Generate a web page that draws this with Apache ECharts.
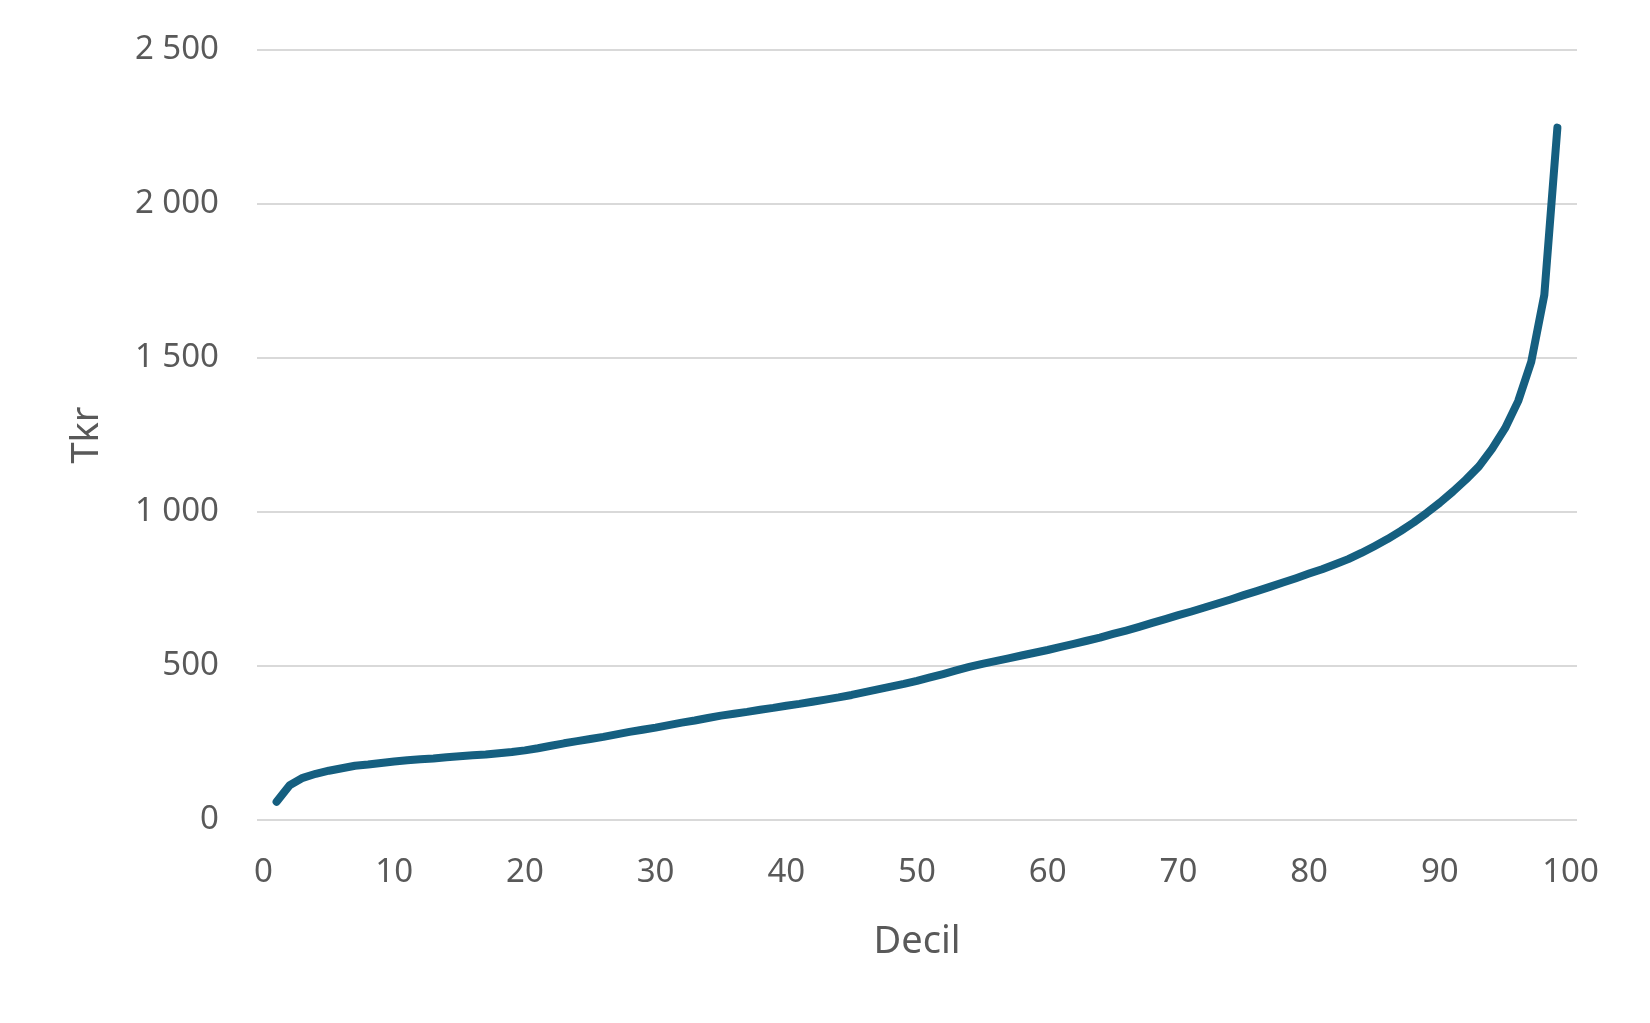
<!DOCTYPE html>
<html>
<head>
<meta charset="utf-8">
<script src="https://cdn.jsdelivr.net/npm/echarts@6/dist/echarts.min.js"></script>
<style>
  html, body { margin: 0; padding: 0; background: #fff; }
  #chart { width: 1650px; height: 1023px; }
</style>
</head>
<body>
<div id="chart"></div>
<script>
// percentil 1..99
const deciles = [
  1, 2, 3, 4, 5, 6, 7, 8, 9, 10,
  11, 12, 13, 14, 15, 16, 17, 18, 19, 20,
  21, 22, 23, 24, 25, 26, 27, 28, 29, 30,
  31, 32, 33, 34, 35, 36, 37, 38, 39, 40,
  41, 42, 43, 44, 45, 46, 47, 48, 49, 50,
  51, 52, 53, 54, 55, 56, 57, 58, 59, 60,
  61, 62, 63, 64, 65, 66, 67, 68, 69, 70,
  71, 72, 73, 74, 75, 76, 77, 78, 79, 80,
  81, 82, 83, 84, 85, 86, 87, 88, 89, 90,
  91, 92, 93, 94, 95, 96, 97, 98, 99
];
// Tkr
const tkr = [
  59, 113, 137, 150, 160, 168, 176, 180, 185, 190,
  194, 197, 200, 204, 207, 210, 213, 217, 221, 226,
  233, 241, 249, 256, 263, 270, 278, 286, 293, 300,
  308, 316, 323, 331, 339, 345, 351, 358, 364, 371,
  377, 384, 391, 398, 406, 415, 424, 433, 442, 452,
  463, 474, 486, 497, 507, 516, 525, 534, 543, 552,
  562, 572, 582, 592, 604, 615, 627, 640, 652, 665,
  677, 690, 703, 716, 730, 743, 757, 771, 785, 800,
  814, 830, 847, 867, 889, 912, 938, 966, 997, 1030,
  1066, 1105, 1148, 1205, 1272, 1360, 1488, 1705, 2248
];
const xTicks = [0, 10, 20, 30, 40, 50, 60, 70, 80, 90, 100];

const font = 'Noto Sans';
const textColor = '#595959';

const chart = echarts.init(document.getElementById('chart'));
const option = {
  animation: false,
  grid: { left: 257, right: 73, top: 50, bottom: 203 },
  xAxis: {
    type: 'value',
    min: -0.5,
    max: 100.5,
    name: 'Decil',
    nameLocation: 'middle',
    nameGap: 103,
    nameTextStyle: { fontFamily: font, fontSize: 38, color: textColor },
    axisLine: { show: false },
    axisTick: { show: false },
    splitLine: { show: false },
    axisLabel: {
      customValues: xTicks,
      fontFamily: font, fontSize: 33, color: textColor, margin: 36
    }
  },
  yAxis: {
    type: 'value',
    min: 0,
    max: 2500,
    interval: 500,
    name: 'Tkr',
    nameLocation: 'middle',
    nameGap: 151,
    nameTextStyle: { fontFamily: font, fontSize: 38, color: textColor },
    axisLine: { show: false },
    axisTick: { show: false },
    splitLine: { lineStyle: { color: '#d9d9d9', width: 2 } },
    axisLabel: {
      fontFamily: font, fontSize: 33, color: textColor, margin: 38,
      formatter: v => String(v).replace(/\B(?=(\d{3})+(?!\d))/g, ' ')
    }
  },
  series: [
    {
      type: 'line',
      data: deciles.map((d, i) => [d, tkr[i]]),
      showSymbol: false,
      lineStyle: { color: '#155f80', width: 8, cap: 'round', join: 'round' }
    }
  ]
};
chart.setOption(option);
</script>
</body>
</html>
